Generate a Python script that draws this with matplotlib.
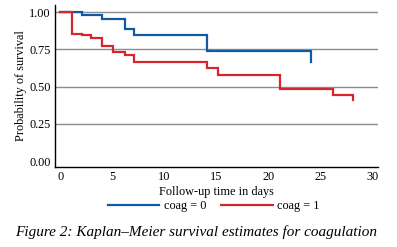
import matplotlib
matplotlib.use("Agg")
import matplotlib.pyplot as plt

# coag = 0 (blue)
t0 = [0, 2.1, 4.05, 6.2, 7.1, 14.05, 24.05]
s0 = [1.0, 0.978, 0.955, 0.886, 0.847, 0.741, 0.663]
# coag = 1 (red)
t1 = [0, 1.1, 2.1, 3.0, 4.05, 5.05, 6.2, 7.1, 14.05, 15.1, 21.1, 26.2, 28.1]
s1 = [1.0, 0.855, 0.848, 0.826, 0.772, 0.732, 0.714, 0.667, 0.627, 0.58, 0.486, 0.446, 0.41]

labels = ["coag = 0", "coag = 1"]
colors = ["#105aa5", "#d6252b"]
yticks = [0.0, 0.25, 0.5, 0.75, 1.0]
xticks = [0, 5, 10, 15, 20, 25, 30]

plt.rcParams['font.family'] = ['Liberation Serif', 'DejaVu Serif']

fig = plt.figure(figsize=(3.97, 2.47), dpi=100)
ax = fig.add_axes([55/397, (247-167)/247, (378-55)/397, (167-5)/247])

for t, s, c, lab in [(t0, s0, colors[0], labels[0]), (t1, s1, colors[1], labels[1])]:
    ax.step(t, s, where='post', color=c, lw=1.6, label=lab, solid_joinstyle='miter')

ax.set_xlim(-0.5, 30.5)
ax.set_ylim(-0.038, 1.047)
ax.set_xticks(xticks)
ax.set_yticks(yticks)
ax.set_yticklabels([f"{v:.2f}" for v in yticks])
ax.tick_params(length=0, labelsize=8.8, pad=3)
for v in yticks[1:]:
    ax.axhline(v, color='#8c8c8c', lw=1.0, zorder=0)
for sp in ['top', 'right']:
    ax.spines[sp].set_visible(False)
ax.spines['left'].set_linewidth(1.0)
ax.spines['bottom'].set_linewidth(1.0)
ax.set_xlabel("Follow-up time in days", fontsize=8.8, labelpad=2)
ax.set_ylabel("Probability of survival", fontsize=8.8, labelpad=2)

handles, labs = ax.get_legend_handles_labels()
fig.legend(handles, labs, loc='center', bbox_to_anchor=(214/397, 1 - 206/247), ncol=2,
           frameon=False, fontsize=8.8, handlelength=4.2, handletextpad=0.4,
           columnspacing=1.2, borderpad=0)

fig.text(196/397, 1 - 232/247, "Figure 2: Kaplan\u2013Meier survival estimates for coagulation",
         ha='center', va='center', fontsize=11, style='italic')

fig.savefig("out.png", dpi=100)
